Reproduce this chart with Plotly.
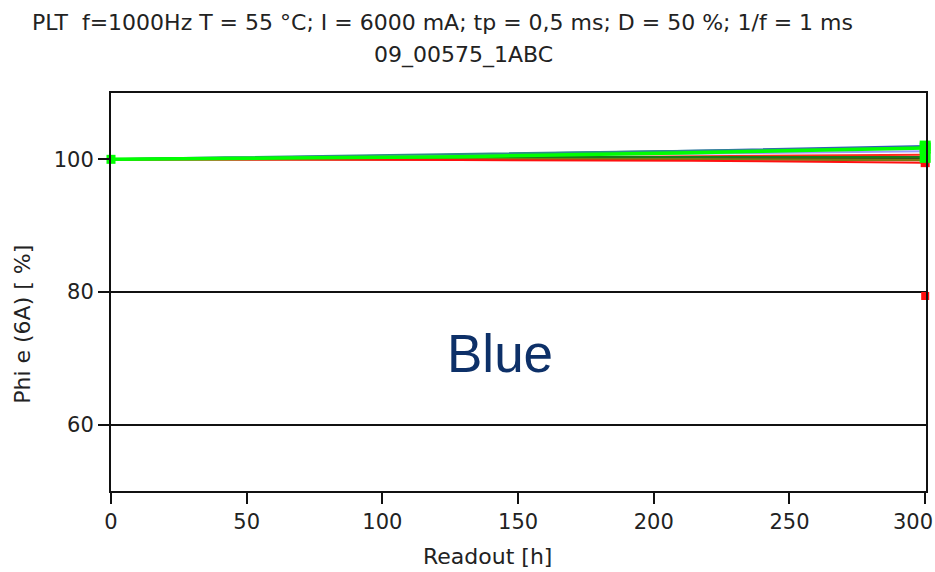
import plotly.graph_objects as go

readout_h = [0, 42, 128, 214, 300]

series_names = ["S1", "S2", "S3", "S4", "S5", "S6", "S7", "S8"]
series_colors = ["#2f5fb8", "#2e8b8b", "#9a9aff", "#ff2a1a", "#1a7a1a", "#7a7a10", "#ff1010", "#00ff00"]
series_values = [
    [100, 100.2, 100.7, 101.3, 102.0],
    [100, 100.3, 100.8, 101.3, 101.8],
    [100, 100.1, 100.5, 100.9, 101.2],
    [100, 100.0, 100.2, 100.5, 100.7],
    [100, 100.1, 100.3, 100.3, 100.3],
    [100, 100.0, 100.1, 100.0, 99.9],
    [100, 100.0, 99.9, 99.8, 99.5],
    [100, 100.1, 100.4, 101.0, 101.7],
]
series_widths = [2, 2, 2, 2, 2.5, 2.5, 2, 3.5]

outlier_x = [300]
outlier_y = [79.4]

title_line1 = "PLT  f=1000Hz T = 55 °C; I = 6000 mA; tp = 0,5 ms; D = 50 %; 1/f = 1 ms"
title_line2 = "09_00575_1ABC"
x_title = "Readout [h]"
y_title = "Phi e (6A) [ %]"
x_ticks = [0, 50, 100, 150, 200, 250, 300]
x_ticklabels = ["0", "50", "100", "150", "200", "250", "300"]
y_ticks = [60, 80, 100]

fig = go.Figure()
for name, color, vals, w in zip(series_names, series_colors, series_values, series_widths):
    fig.add_trace(go.Scatter(
        x=readout_h, y=vals, name=name, mode="lines",
        line=dict(color=color, width=w), showlegend=False, cliponaxis=False))

# end markers
fig.add_trace(go.Scatter(x=[readout_h[-1]], y=[series_values[6][-1]], mode="markers", cliponaxis=False,
                         marker=dict(symbol="square", size=9, color="#ff1010"), showlegend=False))
fig.add_trace(go.Scatter(x=[readout_h[-1]] * 3, y=[series_values[7][-1], series_values[4][-1], series_values[0][-1]],
                         mode="markers", cliponaxis=False,
                         marker=dict(symbol="square", size=11, color="#00ff00"), showlegend=False))
fig.add_trace(go.Scatter(x=[readout_h[0]], y=[series_values[7][0]], mode="markers", cliponaxis=False,
                         marker=dict(symbol="square", size=9, color="#00ff00"), showlegend=False))
fig.add_trace(go.Scatter(x=outlier_x, y=outlier_y, mode="markers", cliponaxis=False,
                         marker=dict(symbol="square", size=8, color="#ff1010"), showlegend=False))

font_fam = "DejaVu Sans, Verdana, sans-serif"
txt_col = "#222"

# last x tick label drawn as an annotation nudged left so it stays inside the page
tick_text_axis = x_ticklabels[:-1] + [""]

fig.update_layout(
    width=935, height=572,
    margin=dict(l=111, r=9, t=93, b=81, autoexpand=False),
    plot_bgcolor="white", paper_bgcolor="white",
    font=dict(family=font_fam, size=21, color=txt_col),
    xaxis=dict(range=[0, 300.3], tickvals=x_ticks, ticktext=tick_text_axis, showgrid=False, zeroline=False,
               showline=True, linecolor="#111", linewidth=2, mirror=True, automargin=False,
               ticks="outside", ticklen=11, tickwidth=2, tickcolor="#111",
               tickfont=dict(size=21, family=font_fam, color=txt_col)),
    yaxis=dict(range=[50, 110], tickvals=y_ticks, showgrid=True, gridcolor="#111", gridwidth=2,
               zeroline=False, showline=True, linecolor="#111", linewidth=2, mirror=True, automargin=False,
               ticks="outside", ticklen=11, tickwidth=2, tickcolor="#111",
               tickfont=dict(size=21, family=font_fam, color=txt_col)),
    annotations=[
        dict(text=x_ticklabels[-1], xref="x", yref="paper", x=x_ticks[-1], y=0, xanchor="right", yanchor="top",
             xshift=10, yshift=-17, showarrow=False, font=dict(size=21, family=font_fam, color=txt_col)),
        dict(text=title_line1, xref="paper", yref="paper", x=-0.099, y=1.178, xanchor="left", yanchor="middle",
             showarrow=False, font=dict(size=22, family=font_fam, color=txt_col)),
        dict(text=title_line2, xref="paper", yref="paper", x=0.433, y=1.095, xanchor="center", yanchor="middle",
             showarrow=False, font=dict(size=22, family=font_fam, color=txt_col)),
        dict(text=x_title, xref="paper", yref="paper", x=0.462, y=-0.165, xanchor="center", yanchor="middle",
             showarrow=False, font=dict(size=22, family=font_fam, color=txt_col)),
        dict(text=y_title, xref="paper", yref="paper", x=-0.108, y=0.42, xanchor="center", yanchor="middle",
             textangle=-90, showarrow=False, font=dict(size=22, family=font_fam, color=txt_col)),
        dict(text="Blue", xref="paper", yref="paper", x=0.477, y=0.345, xanchor="center", yanchor="middle",
             showarrow=False, font=dict(size=53, family="Liberation Sans, Arial, sans-serif", color="#0d3068")),
    ],
)

fig.write_html("out.html")
